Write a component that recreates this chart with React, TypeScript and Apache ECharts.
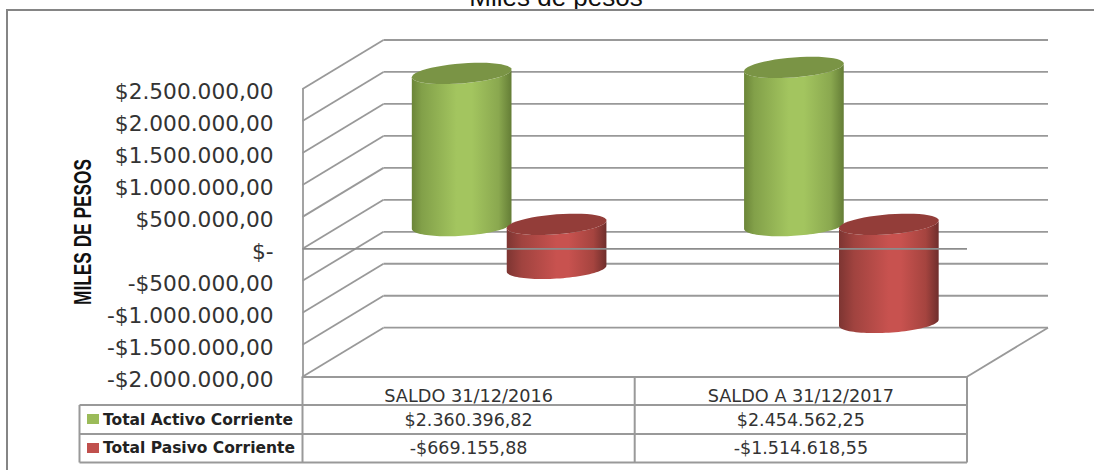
import React, { useEffect, useRef } from "react";
import * as echarts from "echarts";

const chartTitle = "Miles de pesos";
const axisTitle = "MILES DE PESOS";
const categories = ["SALDO 31/12/2016", "SALDO A 31/12/2017"];
const seriesNames = ["Total Activo Corriente", "Total Pasivo Corriente"];
const activoValues = [2360396.82, 2454562.25];
const pasivoValues = [-669155.88, -1514618.55];
const gridTicks = [2500000, 2000000, 1500000, 1000000, 500000, 0, -500000, -1000000, -1500000, -2000000];

const LINE = "#999999";
const DEPTH_X = 81;
const DEPTH_Y = -49;
const LEFT = 302.5;
const RIGHT = 967;
const TOP = 89;
const BOTTOM = 376.7;
const ROWS = [376.7, 405, 434, 462.5];
const TABLE_LEFT = 79.5;
const COL = 634.7;
const LABEL_FONT = "'DejaVu Sans'";

function fmtMoney(v: number) {
  const sign = v < 0 ? "-" : "";
  const [i, d] = Math.abs(v).toFixed(2).split(".");
  return `${sign}$${i.replace(/\B(?=(\d{3})+(?!\d))/g, ".")},${d}`;
}
function fmtTick(v: number) {
  return `{t|${v === 0 ? "$-" : fmtMoney(v)}}`;
}

const lineEl = (x1: number, y1: number, x2: number, y2: number, width = 1.8, stroke = LINE) => ({
  type: "line",
  shape: { x1, y1, x2, y2 },
  style: { stroke, lineWidth: width },
});

function ellipsePoints(cx: number, cy: number, a: number, b: number, tilt: number, from = 0, to = Math.PI * 2) {
  const pts: number[][] = [];
  const n = 48;
  for (let i = 0; i <= n; i++) {
    const t = from + ((to - from) * i) / n;
    pts.push([cx + a * Math.cos(t), cy + b * Math.sin(t) - tilt * Math.cos(t)]);
  }
  return pts;
}

function cylinderSeries(name: string, values: number[], sign: number, stops: [number, string][], cap: string) {
  return {
    type: "custom",
    name,
    coordinateSystem: "cartesian2d",
    z: 3,
    clip: false,
    encode: { x: 0, y: 1 },
    data: values.map((v, i) => [i, v]),
    renderItem: (params: any, api: any) => {
      const cat = api.value(0);
      const val = api.value(1);
      const band = api.size([1, 0])[0];
      const [px, py] = api.coord([cat, val]);
      const [, zeroY] = api.coord([cat, 0]);
      const a = band * 0.15;
      const cx = px + DEPTH_X / 2 + (sign * band) / 7;
      const topY = (val >= 0 ? py : zeroY) + DEPTH_Y / 2;
      const botY = (val >= 0 ? zeroY : py) + DEPTH_Y / 2;
      const b = 10;
      const tiltTop = 3.8;
      const tiltBot = 3;
      const frontBottom = ellipsePoints(cx, botY + 1.5, a, b, tiltBot, 0, Math.PI);
      const frontTop = ellipsePoints(cx, topY, a, b, tiltTop, Math.PI, 0);
      const body = [...frontBottom, ...frontTop];
      return {
        type: "group",
        children: [
          {
            type: "polygon",
            shape: { points: body },
            style: {
              fill: new echarts.graphic.LinearGradient(
                0,
                0,
                1,
                0,
                stops.map(([offset, color]) => ({ offset, color }))
              ),
            },
          },
          {
            type: "polygon",
            shape: { points: ellipsePoints(cx, topY, a, b, tiltTop) },
            style: { fill: cap },
          },
        ],
      };
    },
  };
}

const greenStops: [number, string][] = [
  [0, "#6b8538"],
  [0.1, "#82a049"],
  [0.45, "#a3c55f"],
  [0.6, "#a3c55f"],
  [0.87, "#8aa84f"],
  [1, "#647d36"],
];
const redStops: [number, string][] = [
  [0, "#7d3532"],
  [0.15, "#a0433f"],
  [0.5, "#c8524f"],
  [0.62, "#c8524f"],
  [0.87, "#a5443f"],
  [1, "#6f2e2c"],
];

export default function App() {
  const ref = useRef<HTMLDivElement>(null);
  useEffect(() => {
    const chart = echarts.init(ref.current!, undefined, { renderer: "svg" });
    const option: any = {
      animation: false,
      backgroundColor: "#ffffff",
      title: {
        text: chartTitle,
        left: 551,
        top: -21,
        textAlign: "center",
        textStyle: { fontFamily: "'Liberation Sans'", fontSize: 26, fontWeight: "normal", color: "#111" },
      },
      grid: { left: LEFT, top: TOP, width: RIGHT - LEFT, height: BOTTOM - TOP },
      xAxis: {
        type: "category",
        data: categories,
        position: "bottom",
        axisLine: { onZero: false, lineStyle: { color: LINE, width: 1.8 } },
        axisTick: { show: false },
        splitLine: { show: false },
        axisLabel: { margin: 10, fontFamily: LABEL_FONT, fontSize: 17.7, color: "#333" },
      },
      yAxis: {
        type: "value",
        min: -2000000,
        max: 2500000,
        interval: 500000,
        axisLine: { show: true, lineStyle: { color: LINE, width: 1.8 } },
        axisTick: { show: false },
        splitLine: { show: false },
        axisLabel: {
          margin: 29,
          formatter: fmtTick,
          rich: {
            t: {
              fontFamily: LABEL_FONT,
              fontSize: 21.7,
              color: "#333",
              padding: [5, 0, 0, 0],
            },
          },
        },
      },
      series: [
        {
          type: "custom",
          name: "paredes",
          coordinateSystem: "cartesian2d",
          z: 1,
          clip: false,
          silent: true,
          encode: { x: 0, y: 1 },
          data: gridTicks.map((t) => [0, t]),
          renderItem: (params: any, api: any) => {
            const y = api.coord([0, api.value(1)])[1];
            return {
              type: "group",
              children: [
                lineEl(LEFT, y, LEFT + DEPTH_X, y + DEPTH_Y),
                lineEl(LEFT + DEPTH_X, y + DEPTH_Y, RIGHT + DEPTH_X, y + DEPTH_Y),
              ],
            };
          },
        },
        cylinderSeries(seriesNames[0], activoValues, -1, greenStops, "#7a9445"),
        cylinderSeries(seriesNames[1], pasivoValues, 1, redStops, "#933d39"),
        {
          type: "custom",
          name: "plano cero",
          coordinateSystem: "cartesian2d",
          z: 5,
          clip: false,
          silent: true,
          encode: { x: 0, y: 1 },
          data: [[0, 0]],
          renderItem: (params: any, api: any) => {
            const y = api.coord([0, 0])[1];
            return { type: "group", children: [lineEl(LEFT, y, RIGHT, y, 1.6, "#8c8c8c")] };
          },
        },
      ],
      graphic: [
        {
          type: "rect",
          shape: { x: 7, y: 10, width: 1200, height: 600 },
          style: { fill: "none", stroke: "#858585", lineWidth: 2 },
          silent: true,
          z: 10,
        },
        {
          type: "text",
          x: 82.5,
          y: 232,
          rotation: Math.PI / 2,
          scaleX: 0.72,
          silent: true,
          z: 10,
          style: {
            text: axisTitle,
            fontFamily: "'Liberation Sans'",
            fontWeight: "bold",
            fontSize: 24,
            fill: "#111",
            align: "center",
            verticalAlign: "middle",
          },
        },
        {
          type: "group",
          silent: true,
          z: 10,
          children: [
            lineEl(RIGHT, BOTTOM, RIGHT + DEPTH_X, BOTTOM + DEPTH_Y),
            lineEl(LEFT, BOTTOM, LEFT, ROWS[3], 2),
            lineEl(COL, ROWS[0], COL, ROWS[3], 2),
            lineEl(RIGHT, ROWS[0], RIGHT, ROWS[3], 2),
            lineEl(TABLE_LEFT, ROWS[1], TABLE_LEFT, ROWS[3], 2),
            lineEl(TABLE_LEFT, ROWS[1], RIGHT, ROWS[1], 2),
            lineEl(TABLE_LEFT, ROWS[2], RIGHT, ROWS[2], 2),
            lineEl(TABLE_LEFT, ROWS[3], RIGHT, ROWS[3], 2),
            { type: "rect", shape: { x: 87, y: 414, width: 12, height: 10 }, style: { fill: "#9BBB59" } },
            { type: "rect", shape: { x: 87, y: 443, width: 12, height: 10 }, style: { fill: "#C0504D" } },
            ...seriesNames.map((n, r) => ({
              type: "text",
              x: 103,
              y: (ROWS[r + 1] + ROWS[r + 2]) / 2,
              style: {
                text: n,
                fontFamily: LABEL_FONT,
                fontWeight: "bold",
                fontSize: 15.5,
                fill: "#222",
                verticalAlign: "middle",
                align: "left",
              },
            })),
            ...[activoValues, pasivoValues].flatMap((vals, r) =>
              vals.map((v, c) => ({
                type: "text",
                x: c === 0 ? (LEFT + COL) / 2 : (COL + RIGHT) / 2,
                y: (ROWS[r + 1] + ROWS[r + 2]) / 2,
                style: {
                  text: fmtMoney(v),
                  fontFamily: LABEL_FONT,
                  fontSize: 17.5,
                  fill: "#333",
                  verticalAlign: "middle",
                  align: "center",
                },
              }))
            ),
          ],
        },
      ],
    };
    chart.setOption(option);
    return () => chart.dispose();
  }, []);
  return (
    <div
      ref={ref}
      style={{ position: "absolute", left: 0, top: 0, width: 1094, height: 470 }}
    />
  );
}
